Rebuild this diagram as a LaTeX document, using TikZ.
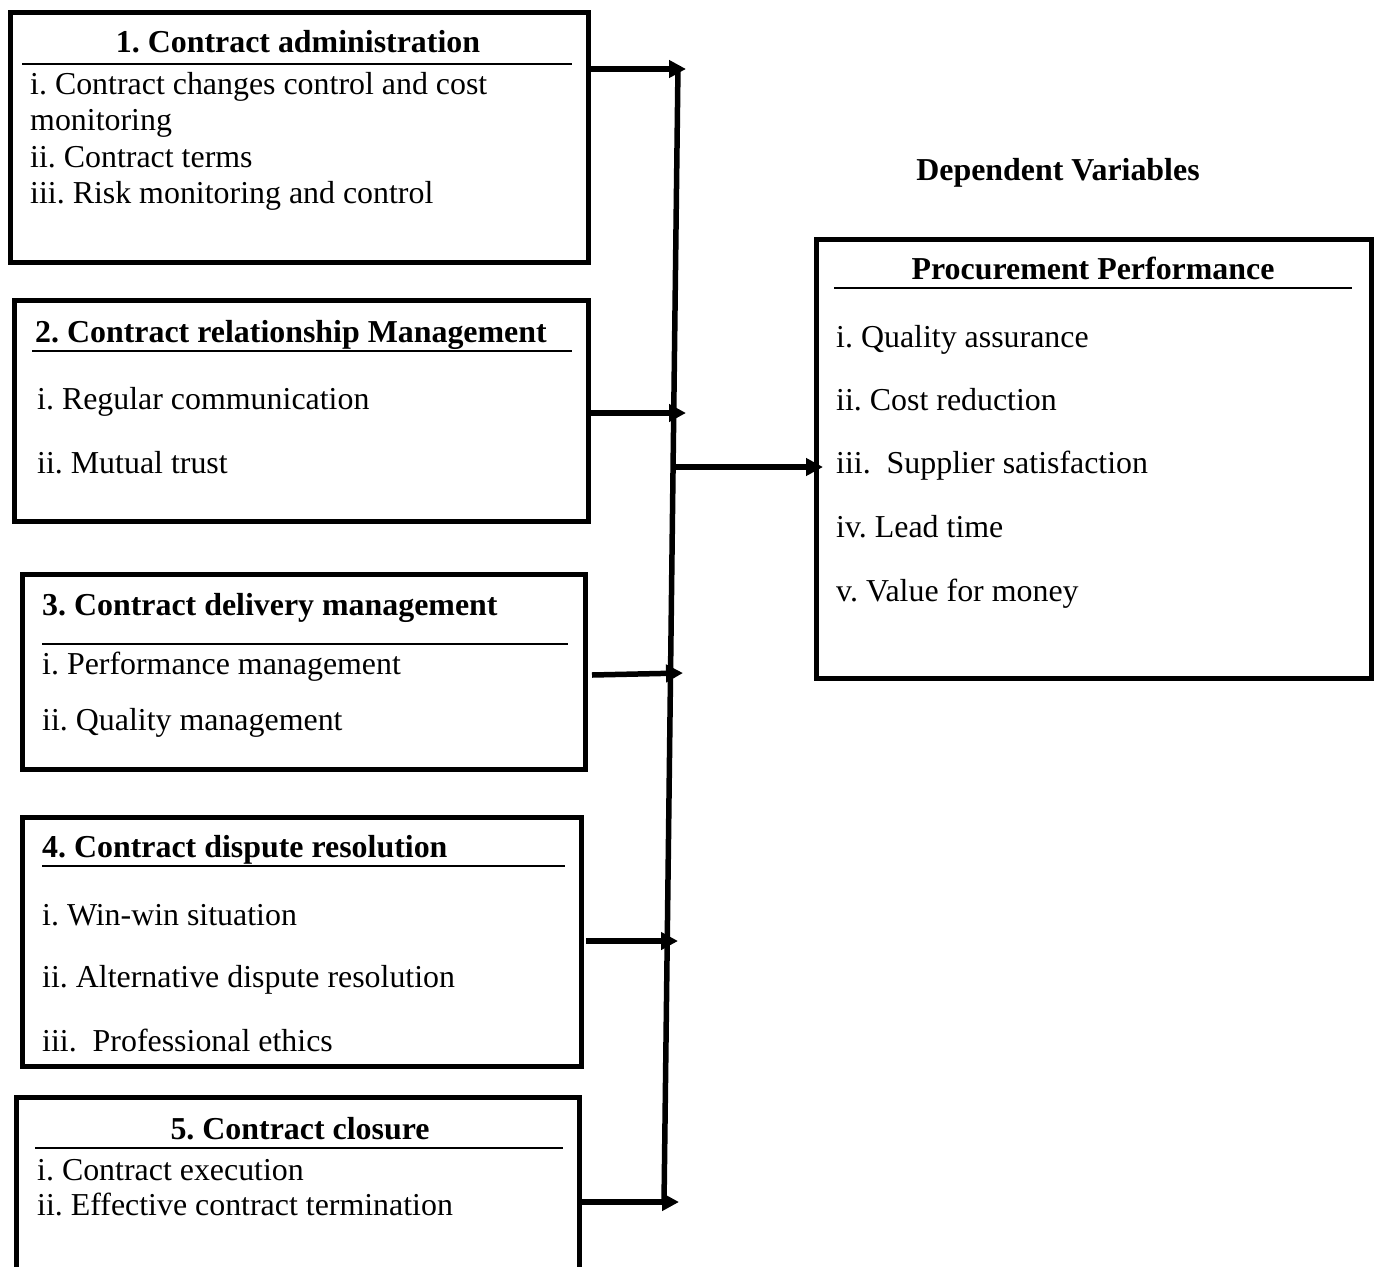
\documentclass[tikz,border=0pt]{standalone}
\usepackage{fontspec}
\setmainfont{Liberation Serif}
\usetikzlibrary{arrows.meta}
\frenchspacing
\begin{document}
\begin{tikzpicture}[x=1pt,y=-1pt,
  box/.style={draw, line width=5pt, rectangle, inner sep=0pt, outer sep=0pt},
  txt/.style={anchor=base west, inner sep=0pt, font=\fontsize{31.9}{36}\selectfont},
  ttl/.style={anchor=base west, inner sep=0pt, font=\fontsize{31.9}{36}\selectfont\bfseries},
  ttlc/.style={anchor=base, inner sep=0pt, font=\fontsize{31.9}{36}\selectfont\bfseries},
  rulel/.style={line width=2pt},
  bus/.style={line width=5.5pt},
  arr/.style={line width=5.5pt, -{Triangle[length=17pt,width=17pt]}}]
\useasboundingbox (0,0) rectangle (1375,1266);
% boxes (path centres)
\node[box, minimum width=578pt, minimum height=250pt] (b1) at (299,137) {};
\node[box, minimum width=574pt, minimum height=221pt] (b2) at (301,410.5) {};
\node[box, minimum width=563pt, minimum height=195pt] (b3) at (303.5,671.5) {};
\node[box, minimum width=559pt, minimum height=249pt] (b4) at (301.5,941.5) {};
\node[box, minimum width=563pt, minimum height=178pt] (b5) at (297.5,1186) {};
\node[box, minimum width=555pt, minimum height=439pt] (p) at (1093.5,458.5) {};
% box 1
\node[ttlc] (t1) at (298,52) {1. Contract administration};
\draw[rulel] (22,64) -- (572,64);
\node[txt] (t1a) at (30,94) {i. Contract changes control and cost};
\node[txt] (t1b) at (30,130) {monitoring};
\node[txt] (t1c) at (30,167) {ii. Contract terms};
\node[txt] (t1d) at (30,203) {iii. Risk monitoring and control};
% box 2
\node[ttl] (t2) at (35,342) {2. Contract relationship Management};
\draw[rulel] (32,351) -- (572,351);
\node[txt] (t2a) at (37,409) {i. Regular communication};
\node[txt] (t2b) at (37,473) {ii. Mutual trust};
% box 3
\node[ttl] (t3) at (42,615) {3. Contract delivery management};
\draw[rulel] (42,644) -- (568,644);
\node[txt] (t3a) at (42,674) {i. Performance management};
\node[txt] (t3b) at (42,730) {ii. Quality management};
% box 4
\node[ttl] (t4) at (42,857) {4. Contract dispute resolution};
\draw[rulel] (42,866) -- (565,866);
\node[txt] (t4a) at (42,925) {i. Win-win situation};
\node[txt] (t4b) at (42,987) {ii. Alternative dispute resolution};
\node[txt] (t4c) at (42,1051) {iii.\ \ Professional ethics};
% box 5
\node[ttlc] (t5) at (300,1139) {5. Contract closure};
\draw[rulel] (35,1148) -- (563,1148);
\node[txt] (t5a) at (37,1180) {i. Contract execution};
\node[txt] (t5b) at (37,1215) {ii. Effective contract termination};
% right box
\node[ttlc] (dv) at (1058,180) {Dependent Variables};
\node[ttlc] (tp) at (1093,279) {Procurement Performance};
\draw[rulel] (834,288) -- (1352,288);
\node[txt] (pa) at (836,347) {i. Quality assurance};
\node[txt] (pb) at (836,410) {ii. Cost reduction};
\node[txt] (pc) at (836,473) {iii.\ \ Supplier satisfaction};
\node[txt] (pd) at (836,537) {iv. Lead time};
\node[txt] (pe) at (836,601) {v. Value for money};
% bus
\coordinate (bt) at (678,66);
\coordinate (bb) at (664,1204);
\draw[bus] (bt) -- (bb);
\coordinate (e1) at (686,69);
\coordinate (e2) at (686,413);
\coordinate (s3) at (592,675);
\coordinate (e3) at (683,673);
\coordinate (e4) at (678,941);
\coordinate (e5) at (679,1202);
\coordinate (s6) at (674,467);
\draw[arr] (b1.east |- e1) -- (e1);
\draw[arr] (b2.east |- e2) -- (e2);
\draw[arr] (s3) -- (e3);
\draw[arr] ([xshift=5pt]b4.east |- e4) -- (e4);
\draw[arr] (b5.east |- e5) -- (e5);
\draw[arr] (s6) -- (p.west |- s6) -- ++(7,0);
\end{tikzpicture}
\end{document}
